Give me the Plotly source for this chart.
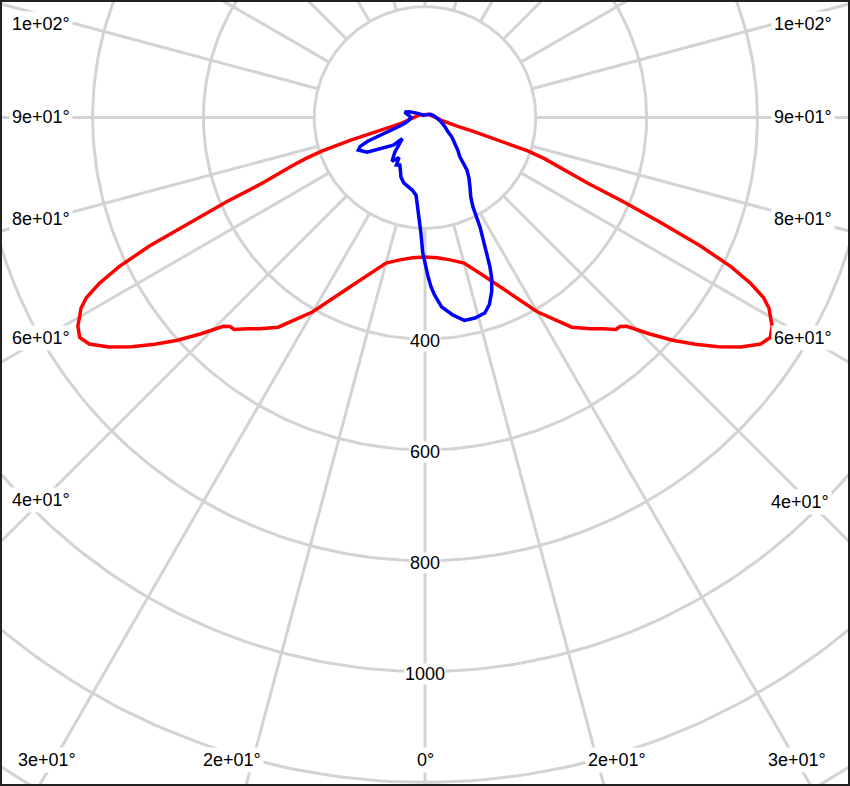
'''
Photometric diagram: C0-C180 plane (red) and C90-C270 plane (blue).
Intensity in cd, gamma angle measured from nadir (0 deg = straight down).
'''
import numpy as np
import plotly.graph_objects as go

# C0 / C180 plane (red) - same on both sides
red_gamma = [0, 5, 10, 15, 20, 25, 30, 35, 38, 40, 42, 43, 44, 46, 48, 50, 52, 54, 56,
	57.5, 59, 60, 61, 62, 63, 64, 65, 66, 67, 68, 69, 70, 71, 72, 73, 74, 75, 76, 78,
	80, 85, 90, 100, 110, 120, 135, 150, 165, 180]
red_cd = [252, 254, 261, 272, 302, 345, 405, 462, 484, 498, 515, 516, 524, 562, 601, 637,
	672, 705, 731, 739, 731, 720, 710, 692, 660, 615, 548, 462, 390, 318, 282, 255, 228,
	195, 140, 92, 60, 45, 35, 30, 25, 20, 15, 12, 10, 8, 6, 5, 5]

# C90 plane (blue, right hand side)
blue_c90_gamma = [0, 1, 2, 3, 5, 8, 11, 14, 17, 19, 21, 22.5, 23.5, 25, 26.7, 28.2, 30,
	33, 36, 38.7, 41.5, 45, 50, 54, 58, 65, 75, 85, 93, 100, 120, 150, 180]
blue_c90_cd = [265, 285, 305, 320, 343, 360, 373, 373, 369, 357, 336, 315, 294, 258, 221,
	183, 165, 149, 135, 121, 95, 84, 70, 60, 49, 40, 30, 22, 18, 17, 12, 6, 3]

# C270 plane (blue, left hand side)
blue_c270_gamma = [0, 1, 2, 3, 4.3, 6.6, 10, 14, 18, 22, 25, 28, 31, 33, 37, 41, 44, 47,
	49, 54, 59, 64, 66, 67.5, 68.5, 69.5, 71, 74, 80, 90, 100, 105, 110, 120, 150, 180]
blue_c270_cd = [265, 243, 209, 190, 167, 141, 133, 128, 124, 116, 105, 97, 100, 86, 99,
	83, 68, 56, 76, 94, 122, 134, 128, 112, 95, 70, 50, 38, 30, 25, 32, 38, 30, 15, 5, 3]

grid_radii = [200, 400, 600, 800, 1000, 1200, 1400]
radial_labels = [400, 600, 800, 1000]

angle_labels = ['1e+02°', '9e+01°', '8e+01°', '6e+01°', '4e+01°', '3e+01°',
	'2e+01°', '0°', '2e+01°', '3e+01°',
	'4e+01°', '6e+01°', '8e+01°', '9e+01°', '1e+02°']
# label centres in screen pixels (they sit where the spokes leave the frame)
label_px = [(41, 24), (41, 117), (41, 219), (41, 338), (41, 500), (47, 760),
	(232, 760), (425, 760), (617, 760), (797, 760),
	(800, 502), (803, 338), (803, 219), (803, 117), (803, 24)]

W, H = 850, 786
CX, CY = 425, 117.5     # pole position in pixels
K = 0.554               # pixels per cd

GRID = '#d3d3d3'
FONT = dict(family='Liberation Sans, Arial, sans-serif', size=18, color='black')


def plane_xy(left_g, left_cd, right_g, right_cd):
	lg = np.radians(left_g[::-1])
	lr = np.array(left_cd[::-1], dtype=float)
	rg = np.radians(right_g)
	rr = np.array(right_cd, dtype=float)
	x = np.concatenate([-lr * np.sin(lg), rr * np.sin(rg)])
	y = np.concatenate([-lr * np.cos(lg), -rr * np.cos(rg)])
	return x, y


def main():
	fig = go.Figure()

	# circles
	t = np.linspace(0, 2 * np.pi, 361)
	for r in grid_radii:
		fig.add_trace(go.Scatter(
			x=r * np.cos(t),
			y=r * np.sin(t),
			mode='lines',
			line=dict(color=GRID, width=3),
			hoverinfo='skip',
			showlegend=False))

	# spokes every 15 deg, starting at the first circle
	for a in range(0, 360, 15):
		ar = np.radians(a)
		fig.add_trace(go.Scatter(
			x=[200 * np.sin(ar), 1600 * np.sin(ar)],
			y=[-200 * np.cos(ar), -1600 * np.cos(ar)],
			mode='lines',
			line=dict(color=GRID, width=3),
			hoverinfo='skip',
			showlegend=False))

	x, y = plane_xy(red_gamma, red_cd, red_gamma, red_cd)
	fig.add_trace(go.Scatter(
		x=x, y=y,
		mode='lines',
		line=dict(color='#ff0000', width=3.5),
		name='C0-C180',
		showlegend=False))

	x, y = plane_xy(blue_c270_gamma, blue_c270_cd, blue_c90_gamma, blue_c90_cd)
	fig.add_trace(go.Scatter(
		x=x, y=y,
		mode='lines',
		line=dict(color='#0000ff', width=3.5),
		name='C90-C270',
		showlegend=False))

	annotations = []
	for v in radial_labels:
		annotations.append(dict(
			x=0, y=-v, xref='x', yref='y',
			text=str(v), showarrow=False,
			font=FONT, bgcolor='white', borderpad=0,
			xanchor='center', yanchor='middle', yshift=-2))
	for txt, (px, py) in zip(angle_labels, label_px):
		annotations.append(dict(
			x=px / W, y=1 - py / H, xref='paper', yref='paper',
			text=txt, showarrow=False,
			font=FONT, bgcolor='white', borderpad=2,
			xanchor='center', yanchor='middle'))

	fig.update_layout(
		width=W, height=H,
		margin=dict(l=0, r=0, t=0, b=0),
		paper_bgcolor='white',
		plot_bgcolor='white',
		xaxis=dict(range=[-CX / K, (W - CX) / K], visible=False, fixedrange=True),
		yaxis=dict(range=[-(H - CY) / K, CY / K], visible=False, fixedrange=True),
		annotations=annotations,
		shapes=[dict(type='rect', xref='paper', yref='paper', x0=0, y0=0, x1=1, y1=1,
			line=dict(color='#222222', width=4))])

	# page body has a default margin; drop it so the figure fills the window
	fig.write_html('out.html', post_script="document.body.style.margin='0px';",
		config=dict(displayModeBar=False))


if __name__ == '__main__':
	main()
